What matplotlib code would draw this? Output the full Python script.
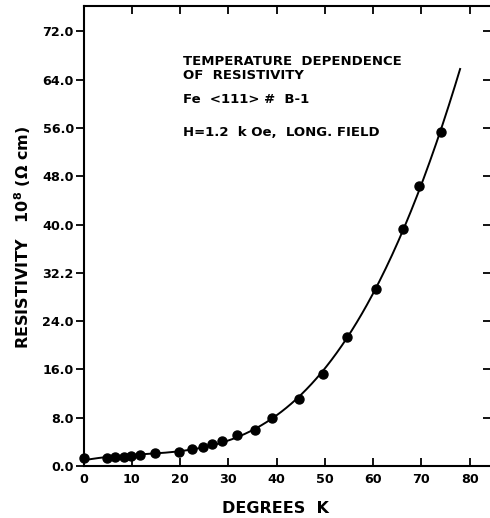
import numpy as np
import matplotlib.pyplot as plt

plt.rcParams["font.family"] = ["DejaVu Sans"]
plt.rcParams["font.weight"] = "bold"
plt.rcParams["axes.labelweight"] = "bold"
plt.rcParams["mathtext.fontset"] = "dejavusans"
plt.rcParams["mathtext.default"] = "bf"

# measured points: temperature (K) and resistivity (1e-8 ohm cm)
temp_k = np.array([0, 4.8, 6.6, 8.3, 9.9, 11.6, 14.8, 19.7, 22.5, 24.7, 26.6,
                   28.6, 31.7, 35.5, 39.1, 44.7, 49.7, 54.6, 60.6, 66.1, 69.5, 74.1])
resistivity = np.array([1.3, 1.35, 1.45, 1.55, 1.65, 1.75, 2.1, 2.4, 2.8, 3.2, 3.65,
                        4.2, 5.1, 6.0, 7.9, 11.1, 15.3, 21.4, 29.4, 39.2, 46.4, 55.3])

x_ticks = [0, 10, 20, 30, 40, 50, 60, 70, 80]
y_ticks = [0, 8, 16, 24, 32, 40, 48, 56, 64, 72]
y_tick_labels = ["0.0", "8.0", "16.0", "24.0", "32.2", "40.0",
                 "48.0", "56.0", "64.0", "72.0"]

info_lines = [
    ("TEMPERATURE  DEPENDENCE", 0.880),
    ("OF  RESISTIVITY", 0.848),
    ("Fe  <111> #  B-1", 0.796),
    ("H=1.2  k Oe,  LONG. FIELD", 0.724),
]

fig = plt.figure(figsize=(4.9, 5.18), dpi=100)
ax = fig.add_axes([83.5 / 490, 52 / 518, 407.5 / 490, 460 / 518])

# smooth fitted curve through the measurements
coeffs = np.polyfit(temp_k, resistivity, 4)
t_fit = np.linspace(0, 78, 300)
ax.plot(t_fit, np.polyval(coeffs, t_fit), color="black", lw=1.4, zorder=3)
ax.plot(temp_k, resistivity, "o", color="black", ms=6.5, clip_on=False, zorder=4)

ax.set_xlim(0, 84.4)
ax.set_ylim(0, 76.2)

ax.set_xticks(x_ticks)
ax.set_yticks(y_ticks)
ax.set_yticklabels(y_tick_labels)
ax.tick_params(axis="x", top=True, direction="in", length=6, width=1.3,
               labelsize=9.2, pad=5)
ax.tick_params(axis="y", direction="out", length=6, width=1.3,
               labelsize=9.2, pad=1)

for side in ("left", "bottom", "top"):
    ax.spines[side].set_linewidth(1.5)
ax.spines["right"].set_visible(False)

# inward ticks along the right edge
sec = ax.secondary_yaxis("right")
sec.set_yticks(y_ticks)
sec.tick_params(direction="in", length=6, width=1.3, labelright=False)
sec.spines["right"].set_visible(False)

ax.set_xlabel("DEGREES  K", fontsize=11.5)
ax.xaxis.set_label_coords(0.47, -0.076)
ax.set_ylabel("RESISTIVITY   10$^{8}$ (Ω cm)", fontsize=11.5)
ax.yaxis.set_label_coords(-0.125, 0.498)

for text, y in info_lines:
    ax.text(0.244, y, text, transform=ax.transAxes, fontsize=9.5,
            ha="left", va="center")

fig.savefig("out.png", dpi=100)
